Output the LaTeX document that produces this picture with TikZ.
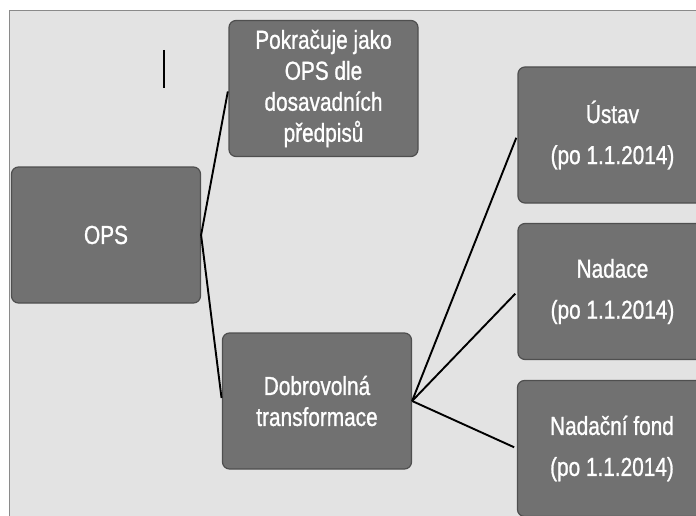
\documentclass[tikz,border=0pt]{standalone}
\usepackage{fontspec}
\setmainfont{Liberation Sans}[FakeStretch=0.8,FakeBold=1]
\definecolor{bgcol}{HTML}{E3E3E3}
\definecolor{boxfill}{HTML}{717171}
\definecolor{boxline}{HTML}{4F4F4F}
\definecolor{framecol}{HTML}{8A8A8A}
\begin{document}
\begin{tikzpicture}[x=1pt,y=-1pt,
  box/.style={draw=boxline, line width=1.2pt, fill=boxfill, rounded corners=7pt,
    minimum width=189pt, minimum height=136pt, inner sep=0pt, text=white,
    align=center, font=\fontsize{26}{31}\selectfont},
  rbox/.style={box, font=\fontsize{26}{41}\selectfont},
  conn/.style={line width=1.9pt, black, shorten >=3pt}]
\useasboundingbox (0,0) rectangle (696,516);
\clip (0,0) rectangle (696,516);
\fill[white] (0,0) rectangle (696,516);
\fill[bgcol] (9.5,10.5) rectangle (700,520);
\draw[framecol, line width=1.5pt] (9.5,520) -- (9.5,10.5) -- (700,10.5);
% boxes
\node[box] (top) at (323.5,88.5) {Pokračuje jako\\OPS dle\\dosavadních\\předpisů};
\node[box] (ops) at (106,235) {OPS};
\node[box] (dob) at (317,401) {Dobrovolná\\transformace};
\node[rbox] (ustav) at (612.5,135) {Ústav\\(po 1.1.2014)};
\node[rbox] (nadace) at (612.5,291.5) {Nadace\\(po 1.1.2014)};
\node[rbox] (fond) at (612,448.5) {Nadační fond\\(po 1.1.2014)};
% connectors
\draw[conn] (ops.east) -- (top.west);
\draw[conn] (ops.east) -- (dob.west);
\draw[conn] (dob.east) -- (ustav.west);
\draw[conn] (dob.east) -- (nadace.west);
\draw[conn] (dob.east) -- (fond.west);
% stray mark
\draw[black, line width=1.5pt] (164,50) -- (164,88);
\end{tikzpicture}
\end{document}
